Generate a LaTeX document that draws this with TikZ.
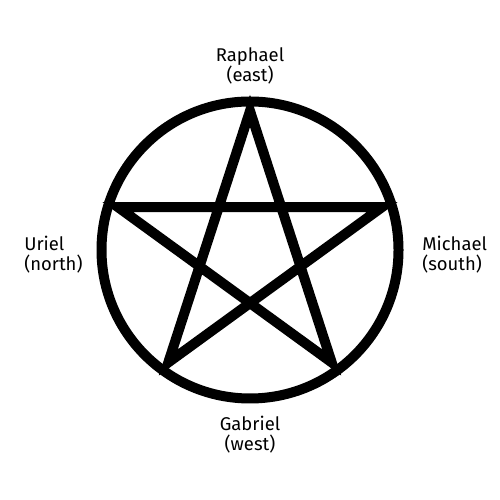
\documentclass[tikz,border=0pt]{standalone}
\usepackage{fontspec}
\setmainfont{Fira Sans}
\usetikzlibrary{positioning,calc}

\begin{document}
\begin{tikzpicture}[
				ring/.style={
					draw,
					line width=0.2cm
				},
				star/.style={
					draw,
					line width=0.2cm,
					line join=miter
				},
				angel/.style={
					inner sep=0pt,
					font=\fontsize{10.5}{11.4}\selectfont
				}
			]
			\useasboundingbox (0,0) rectangle (10,10);
			\coordinate (c) at (5,5);
			\foreach \i/\a in {1/90,2/162,3/234,4/306,5/18}
				\coordinate (p\i) at ($(c)+(\a:2.78)$);
			\draw[ring] (c) circle (2.97);
			\draw[star] (p1) -- (p3) -- (p5) -- (p2) -- (p4) -- cycle;

			\node[angel,align=center] (raphael) at (5,8.68) {Raphael\\(east)};
			\node[angel,align=left,anchor=west] (uriel) at (0.48,4.9) {Uriel\\(north)};
			\node[angel,align=left,anchor=west] (michael) at (8.44,4.9) {Michael\\(south)};
			\node[angel,align=center] (gabriel) at (5,1.3) {Gabriel\\(west)};
		\end{tikzpicture}
\end{document}
